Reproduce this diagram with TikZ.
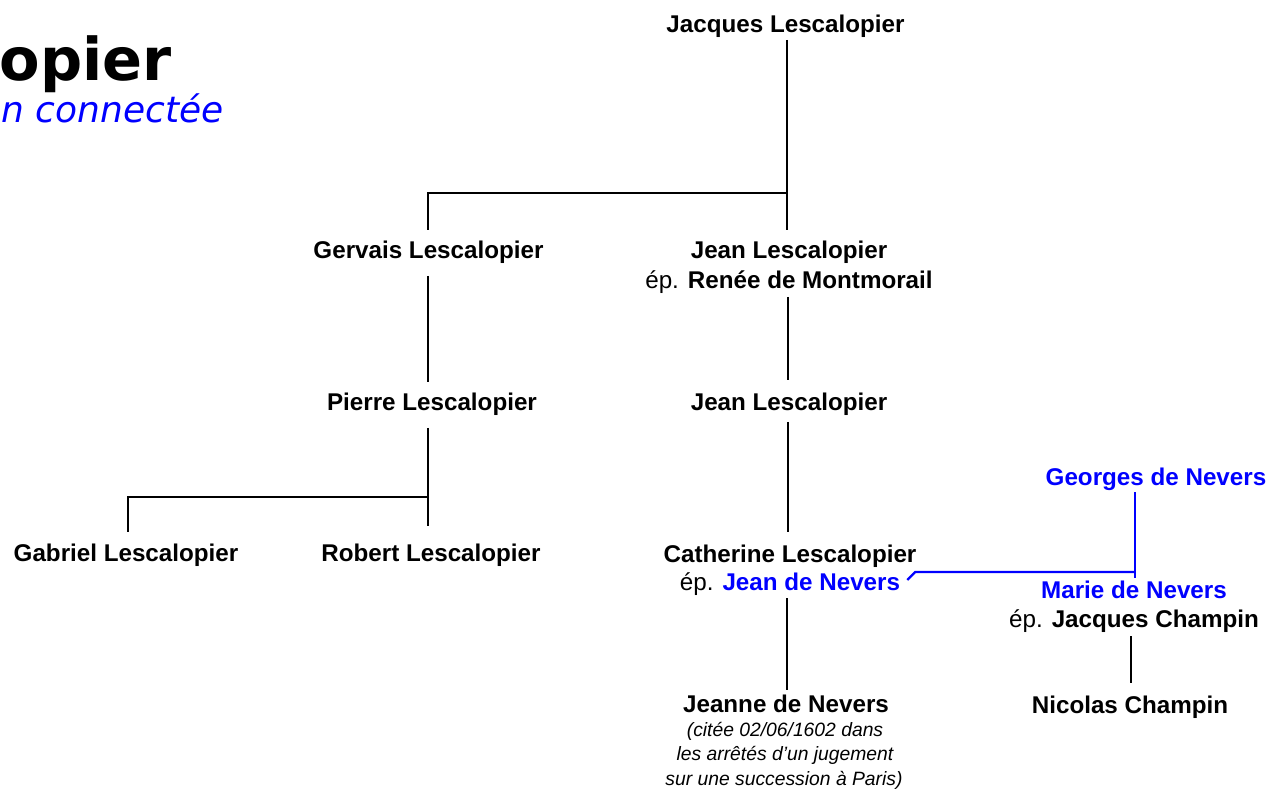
\documentclass[tikz,border=0pt]{standalone}
\usepackage{fontspec}
\setmainfont{Liberation Sans}
\newfontfamily\titlefont{DejaVu Sans}
\usetikzlibrary{calc}
\definecolor{nblue}{RGB}{0,0,255}
\tikzset{
  nm/.style={anchor=base, inner sep=0pt, font=\fontsize{24.2}{28}\selectfont\bfseries},
  bnm/.style={nm, text=nblue},
  note/.style={anchor=base, inner sep=0pt, font=\fontsize{19.3}{24}\selectfont\itshape},
  ln/.style={line width=2.8pt, black},
  bln/.style={line width=2.3pt, nblue},
}
\newcommand{\epx}{{\mdseries ép.}}
\begin{document}
\begin{tikzpicture}[x=1pt,y=-1pt]
\useasboundingbox (0,0) rectangle (1270,794);
% title (cut at the left edge)
\node[anchor=base east, inner sep=0pt, font=\titlefont\fontsize{59}{64}\selectfont\bfseries] (title) at (172,81) {opier};
\node[anchor=base east, inner sep=0pt, font=\titlefont\fontsize{36}{40}\selectfont\itshape, text=nblue] (subtitle) at (224,123) {n connectée};
% people
\node[nm] (jacques) at (785.5,33) {Jacques Lescalopier};
\node[nm] (gervais) at (428.5,259) {Gervais Lescalopier};
\node[nm] (jean1) at (789,259) {Jean Lescalopier};
\node[nm] (jean2) at (789,289) {\epx{} Renée de Montmorail};
\node[nm] (pierre) at (432,410) {Pierre Lescalopier};
\node[nm] (jean3) at (789,410) {Jean Lescalopier};
\node[nm] (gabriel) at (126,561) {Gabriel Lescalopier};
\node[nm] (robert) at (431,561) {Robert Lescalopier};
\node[nm] (cath1) at (790,562) {Catherine Lescalopier};
\node[nm] (cath2) at (790,590) {\epx{} {\color{nblue}Jean de Nevers}};
\node[nm] (jeanne) at (786,712) {Jeanne de Nevers};
\node[note] (n1) at (785,736) {(citée 02/06/1602 dans};
\node[note] (n2) at (785,760) {les arrêtés d’un jugement};
\node[note] (n3) at (784,785) {sur une succession à Paris)};
\node[bnm] (georges) at (1156,485) {Georges de Nevers};
\node[bnm] (marie1) at (1134,598) {Marie de Nevers};
\node[nm] (marie2) at (1134,627) {\epx{} Jacques Champin};
\node[nm] (nicolas) at (1130,713) {Nicolas Champin};
% connectors
\draw[ln] ($(jacques.base)+(1.5,7)$) -- ($(jean1.base)+(-2,-29)$);
\draw[ln] ($(jacques.base)+(1.5,160)$) -| ($(gervais.base)+(-0.5,-29)$);
\draw[ln] ($(gervais.base)+(-0.5,17)$) -- ($(pierre.base)+(-4,-28)$);
\draw[ln] ($(jean2.base)+(-1,8)$) -- ($(jean3.base)+(-1,-30)$);
\draw[ln] ($(pierre.base)+(-4,18)$) -- ($(robert.base)+(-3,-35)$);
\draw[ln] ($(pierre.base)+(-4,87)$) -| ($(gabriel.base)+(2,-29)$);
\draw[ln] ($(jean3.base)+(-1,12)$) -- ($(cath1.base)+(-2,-30)$);
\draw[ln] ($(cath2.base)+(-3,8)$) -- ($(jeanne.base)+(1,-22)$);
\draw[ln] ($(marie2.base)+(-3,9)$) -- ($(nicolas.base)+(1,-30)$);
\draw[bln] ($(marie1.base |- georges.base)+(1,7)$) -- ($(marie1.base)+(1,-20)$);
\coordinate (jn) at ($(cath2.base east)+(7,-10)$);
\draw[bln] ($(marie1.base)+(1,-26)$) -- ($(cath2.base east)+(15,-18)$) -- (jn);
\end{tikzpicture}
\end{document}
